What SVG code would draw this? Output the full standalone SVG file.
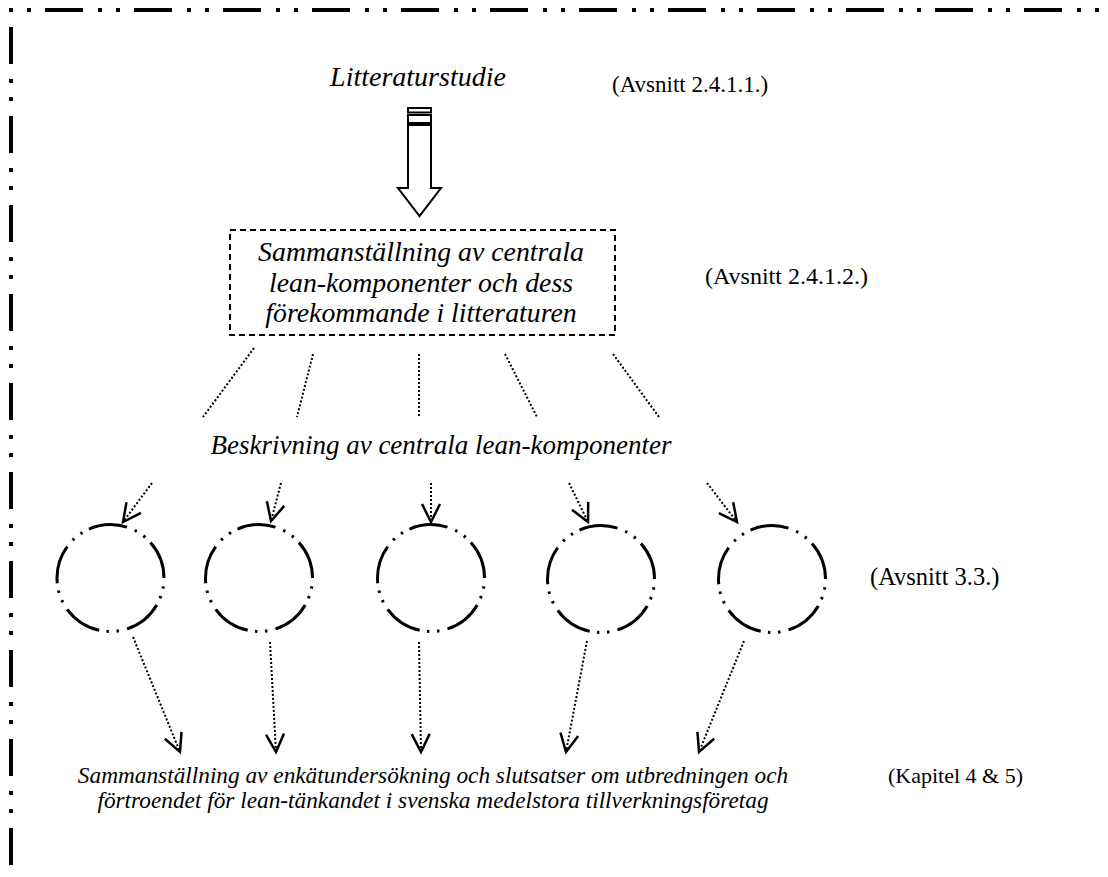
<svg xmlns="http://www.w3.org/2000/svg" width="1108" height="877" viewBox="0 0 1108 877">
<style>
.it{font-family:"Liberation Serif","Times New Roman",serif;font-style:italic;fill:#000}
.rm{font-family:"Liberation Serif","Times New Roman",serif;fill:#000}
.dot{fill:none;stroke:#000;stroke-width:2;stroke-dasharray:2 2}
.circ{fill:none;stroke:#000;stroke-width:3;stroke-dasharray:40 8.5 2.5 8 2.5 7.5;stroke-dashoffset:40}
.frame{fill:none;stroke:#000;stroke-width:4}
</style>
<defs>
<marker id="v" markerUnits="userSpaceOnUse" markerWidth="30" markerHeight="30" refX="0" refY="0" orient="auto" overflow="visible">
<path d="M-18,-9 L0,0 L-18,9" fill="none" stroke="#000" stroke-width="2.5"/>
</marker>
</defs>
<rect width="1108" height="877" fill="#fff"/>
<g id="frame">
<line class="frame" x1="-44" y1="10" x2="1120" y2="10" stroke-dasharray="38 15 4 14 4 14"/>
<line class="frame" x1="11" y1="-62" x2="11" y2="900" stroke-dasharray="37 15 4 14 4 15"/>
</g>
<g id="title"><text class="it" x="418" y="86" font-size="28" text-anchor="middle">Litteraturstudie</text></g>
<g id="label-2411"><text class="rm" x="612" y="92" font-size="23">(Avsnitt 2.4.1.1.)</text></g>
<g id="hollow-arrow" fill="#fff" stroke="#000" stroke-width="2">
<rect x="408" y="108" width="23" height="4.5"/>
<rect x="408" y="115" width="23" height="8"/>
<polygon points="408,125 431,125 431,188 441,188 419.5,216 398,188 408,188"/>
</g>
<g id="box">
<rect x="230" y="230" width="385" height="105" fill="none" stroke="#000" stroke-width="2" stroke-dasharray="6 4"/>
<text class="it" font-size="27.8" text-anchor="middle"><tspan x="421" y="261">Sammanställning av centrala</tspan><tspan x="421" y="292">lean-komponenter och dess</tspan><tspan x="421" y="322">förekommande i litteraturen</tspan></text>
</g>
<g id="label-2412"><text class="rm" x="705" y="284" font-size="24">(Avsnitt 2.4.1.2.)</text></g>
<g id="beskrivning"><text class="it" x="441" y="454" font-size="27" text-anchor="middle">Beskrivning av centrala lean-komponenter</text></g>
<g id="c1"><circle class="circ" cx="110.5" cy="578" r="53.5" pathLength="345"/></g>
<g id="c2"><circle class="circ" cx="259" cy="578" r="53.5" pathLength="345"/></g>
<g id="c3"><circle class="circ" cx="431" cy="578" r="53.5" pathLength="345"/></g>
<g id="c4"><circle class="circ" cx="601" cy="579" r="53.5" pathLength="345"/></g>
<g id="c5"><circle class="circ" cx="772" cy="579" r="53.5" pathLength="345"/></g>
<g id="label-33"><text class="rm" x="870" y="585" font-size="24.5">(Avsnitt 3.3.)</text></g>
<g id="result"><text class="it" font-size="23.3" text-anchor="middle"><tspan x="433" y="783">Sammanställning av enkätundersökning och slutsatser om utbredningen och</tspan><tspan x="433" y="808">förtroendet för lean-tänkandet i svenska medelstora tillverkningsföretag</tspan></text></g>
<g id="label-kap"><text class="rm" x="888" y="783" font-size="22">(Kapitel 4 &amp; 5)</text></g>
<g id="connectors">
<line class="dot" x1="254" y1="348" x2="203" y2="417"/>
<line class="dot" x1="313" y1="354" x2="297" y2="417"/>
<line class="dot" x1="419" y1="354" x2="419" y2="417"/>
<line class="dot" x1="505" y1="354" x2="537" y2="417"/>
<line class="dot" x1="613" y1="354" x2="659" y2="417"/>
<line class="dot" x1="152" y1="483" x2="123" y2="522" marker-end="url(#v)"/>
<line class="dot" x1="281" y1="483" x2="271" y2="521" marker-end="url(#v)"/>
<line class="dot" x1="431" y1="483" x2="431" y2="522" marker-end="url(#v)"/>
<line class="dot" x1="569" y1="483" x2="588" y2="522" marker-end="url(#v)"/>
<line class="dot" x1="707" y1="483" x2="737" y2="522" marker-end="url(#v)"/>
<line class="dot" x1="133" y1="637" x2="180" y2="752" marker-end="url(#v)"/>
<line class="dot" x1="270" y1="642" x2="276" y2="752" marker-end="url(#v)"/>
<line class="dot" x1="419" y1="642" x2="421" y2="752" marker-end="url(#v)"/>
<line class="dot" x1="587" y1="641" x2="566" y2="752" marker-end="url(#v)"/>
<line class="dot" x1="744" y1="641" x2="699" y2="752" marker-end="url(#v)"/>
</g>
</svg>
